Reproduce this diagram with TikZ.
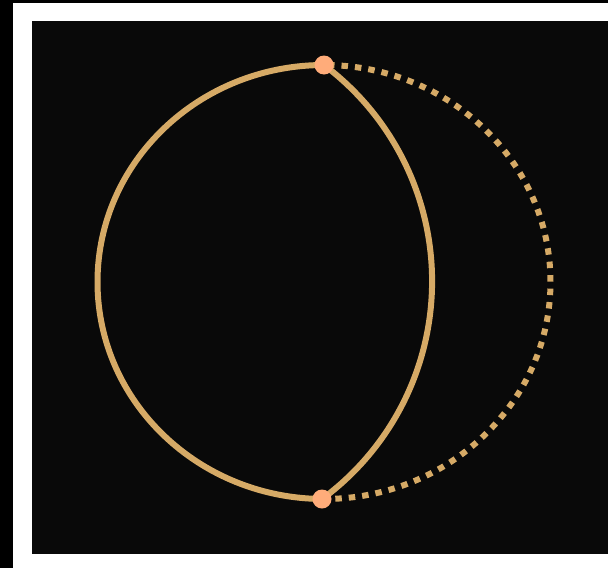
\documentclass[tikz,border=0pt]{standalone}
\definecolor{tan}{RGB}{214,170,102}
\definecolor{peach}{RGB}{255,172,122}
\definecolor{inner}{RGB}{9,9,9}
\begin{document}
\begin{tikzpicture}[x=1pt,y=-1pt,
  curve/.style={draw=tan,line width=6pt},
  dotcurve/.style={draw=tan,line width=6pt,dash pattern=on 6.5pt off 7pt,dash phase=-4pt},
  pt/.style={circle,fill=peach,inner sep=0pt,minimum size=19pt}]
\useasboundingbox (0,0) rectangle (608,568);
\fill[black] (0,0) rectangle (608,568);
\fill[white] (13,3) rectangle (608,568);
\fill[inner] (32,21) rectangle (608,554);
\coordinate (T0) at (324,65);
\coordinate (B0) at (322,499);
% left half solid
\draw[curve] (T0) arc[start angle=-90,end angle=-270,x radius=226.5,y radius=217];
% right half dotted
\draw[dotcurve] (T0) arc[start angle=-90,end angle=90,x radius=226.5,y radius=217];
% inner arc
\draw[curve] (T0) arc[start angle=-53.1,end angle=53.4,radius=270.5];
\node[pt] (T) at (T0) {};
\node[pt] (B) at (B0) {};
\end{tikzpicture}
\end{document}
